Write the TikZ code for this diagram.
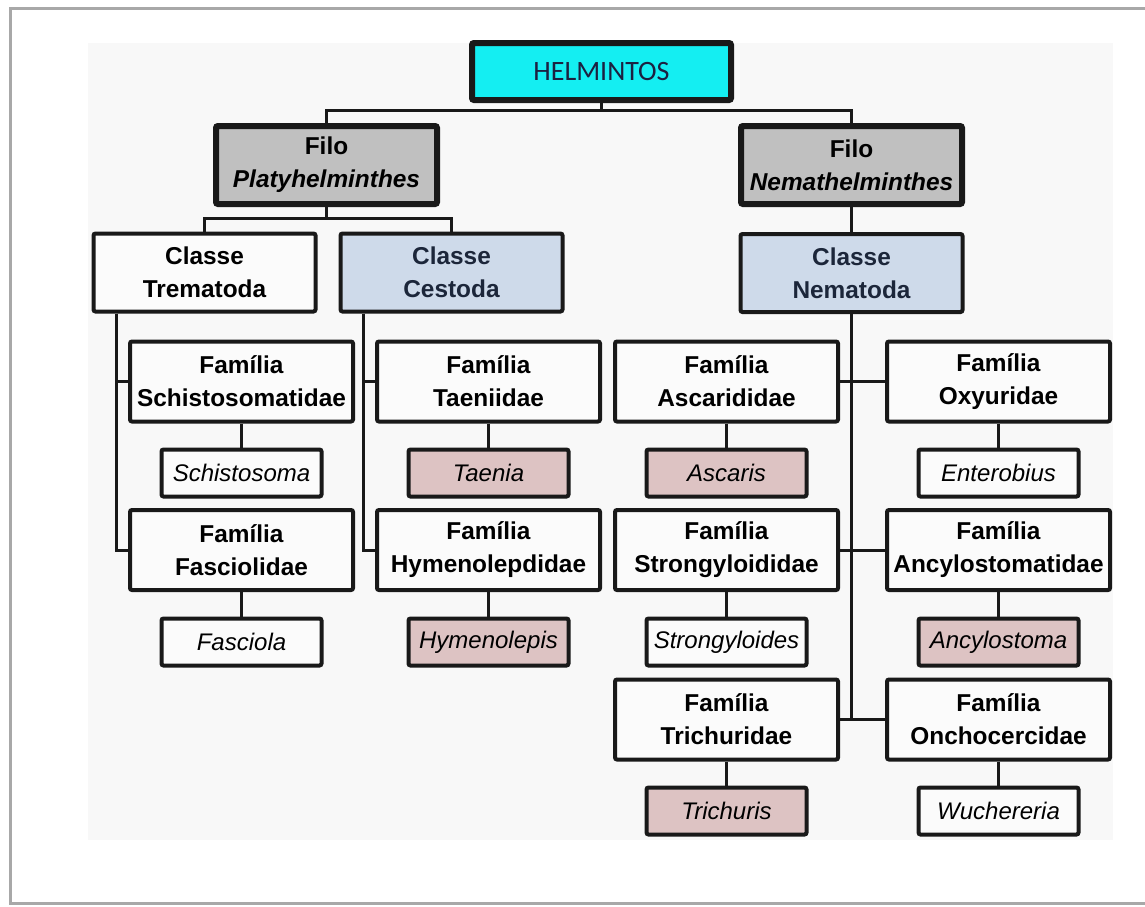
\documentclass[tikz,border=0pt]{standalone}
\usepackage{fontspec}
\setmainfont{Liberation Sans}
\newfontfamily\carlito{Carlito}
\definecolor{helmcyan}{RGB}{20,238,242}
\definecolor{filogray}{RGB}{192,192,192}
\definecolor{classblue}{RGB}{206,218,234}
\definecolor{genuspink}{RGB}{221,195,195}
\definecolor{boxwhite}{RGB}{251,251,251}
\definecolor{bggray}{RGB}{248,248,248}
\definecolor{framegray}{RGB}{168,168,168}
\definecolor{helmtext}{RGB}{28,32,64}
\definecolor{classtext}{RGB}{28,38,58}

\begin{document}
\begin{tikzpicture}[x=0.5pt,y=-0.5pt,
  box/.style={draw=black!90,line width=2pt,rounded corners=1pt,align=center,inner sep=0pt,
    font=\fontsize{12.2}{16.5}\selectfont\bfseries},
  filo/.style={box,fill=filogray,line width=3pt,minimum width=110.5pt,minimum height=39pt},
  classe/.style={box,fill=classblue,text=classtext,minimum width=111pt,minimum height=39pt},
  familia/.style={box,fill=boxwhite,minimum width=111.5pt,minimum height=40pt},
  genus/.style={box,fill=boxwhite,minimum width=80pt,minimum height=23.5pt,
    font=\fontsize{12}{14}\selectfont\itshape},
  pink/.style={genus,fill=genuspink},
  link/.style={line width=1.5pt,black!90}]

  \useasboundingbox (0,0) rectangle (1145,906);
  \fill[bggray] (88,43) rectangle (1113,840);
  \draw[framegray,line width=1.5pt] (1145,8) -- (10,8) -- (10,903) -- (1145,903);

  \node[box,fill=helmcyan,line width=3pt,minimum width=129.5pt,minimum height=28.5pt,
    font=\carlito\fontsize{14}{16}\selectfont,text=helmtext] (helm) at (601.5,71.5) {HELMINTOS};
  \node[filo] (platy) at (326.5,165) {Filo\\\textit{Platyhelminthes}};
  \node[filo] (nemath) at (851.5,165) {Filo\\\textit{Nemathelminthes}};

  \node[classe,fill=boxwhite,text=black] (tremat) at (204.5,272.5) {Classe\\Trematoda};
  \node[classe] (cestod) at (451.5,272.5) {Classe\\Cestoda};
  \node[classe] (nemato) at (851.5,273) {Classe\\Nematoda};

  \node[familia] (schisto) at (241.5,381.5) {Família\\Schistosomatidae};
  \node[genus] (schistg) at (241.5,473) {Schistosoma};
  \node[familia] (fasci) at (241.5,550) {Família\\Fasciolidae};
  \node[genus] (fascig) at (241.5,642) {Fasciola};

  \node[familia] (taeni) at (488.5,381.5) {Família\\Taeniidae};
  \node[pink] (taenig) at (488.5,473) {Taenia};
  \node[familia] (hymen) at (488.5,550) {Família\\Hymenolepdidae};
  \node[pink] (hymeng) at (488.5,642) {Hymenolepis};

  \node[familia] (ascar) at (726.5,381.5) {Família\\Ascarididae};
  \node[pink] (ascarg) at (726.5,473) {Ascaris};
  \node[familia] (stron) at (726.5,550) {Família\\Strongyloididae};
  \node[genus] (strong) at (726.5,642) {Strongyloides};
  \node[familia] (trich) at (726.5,719.5) {Família\\Trichuridae};
  \node[pink] (trichg) at (726.5,811) {Trichuris};

  \node[familia] (oxyur) at (998.5,381.5) {Família\\Oxyuridae};
  \node[genus] (oxyurg) at (998.5,473) {Enterobius};
  \node[familia] (ancyl) at (998.5,550) {Família\\Ancylostomatidae};
  \node[pink] (ancylg) at (998.5,642) {Ancylostoma};
  \node[familia] (oncho) at (998.5,719.5) {Família\\Onchocercidae};
  \node[genus] (onchog) at (998.5,811) {Wuchereria};

  \coordinate (top) at (601.5,110);
  \coordinate (platyj) at (326.5,218);
  \draw[link] (helm.south) -- (top);
  \draw[link] (platy.north) |- (top) -| (nemath.north);
  \draw[link] (platy.south) -- (platyj);
  \draw[link] (tremat.north) |- (platyj) -| (cestod.north);
  \draw[link] (nemath.south) -- (nemato.north);

  \draw[link] ([xshift=12.5pt]tremat.south west) |- (schisto.west);
  \draw[link] ([xshift=12.5pt]tremat.south west) |- (fasci.west);
  \draw[link] ([xshift=12.5pt]cestod.south west) |- (taeni.west);
  \draw[link] ([xshift=12.5pt]cestod.south west) |- (hymen.west);

  \draw[link] (nemato.south) -- (nemato.south |- trich.east);
  \draw[link] (ascar.east) -- (oxyur.west);
  \draw[link] (stron.east) -- (ancyl.west);
  \draw[link] (trich.east) -- (oncho.west);

  \foreach \fam/\gen in {schisto/schistg,fasci/fascig,taeni/taenig,hymen/hymeng,
    ascar/ascarg,stron/strong,trich/trichg,oxyur/oxyurg,ancyl/ancylg,oncho/onchog}
    \draw[link] (\fam.south) -- (\gen.north);
\end{tikzpicture}
\end{document}
